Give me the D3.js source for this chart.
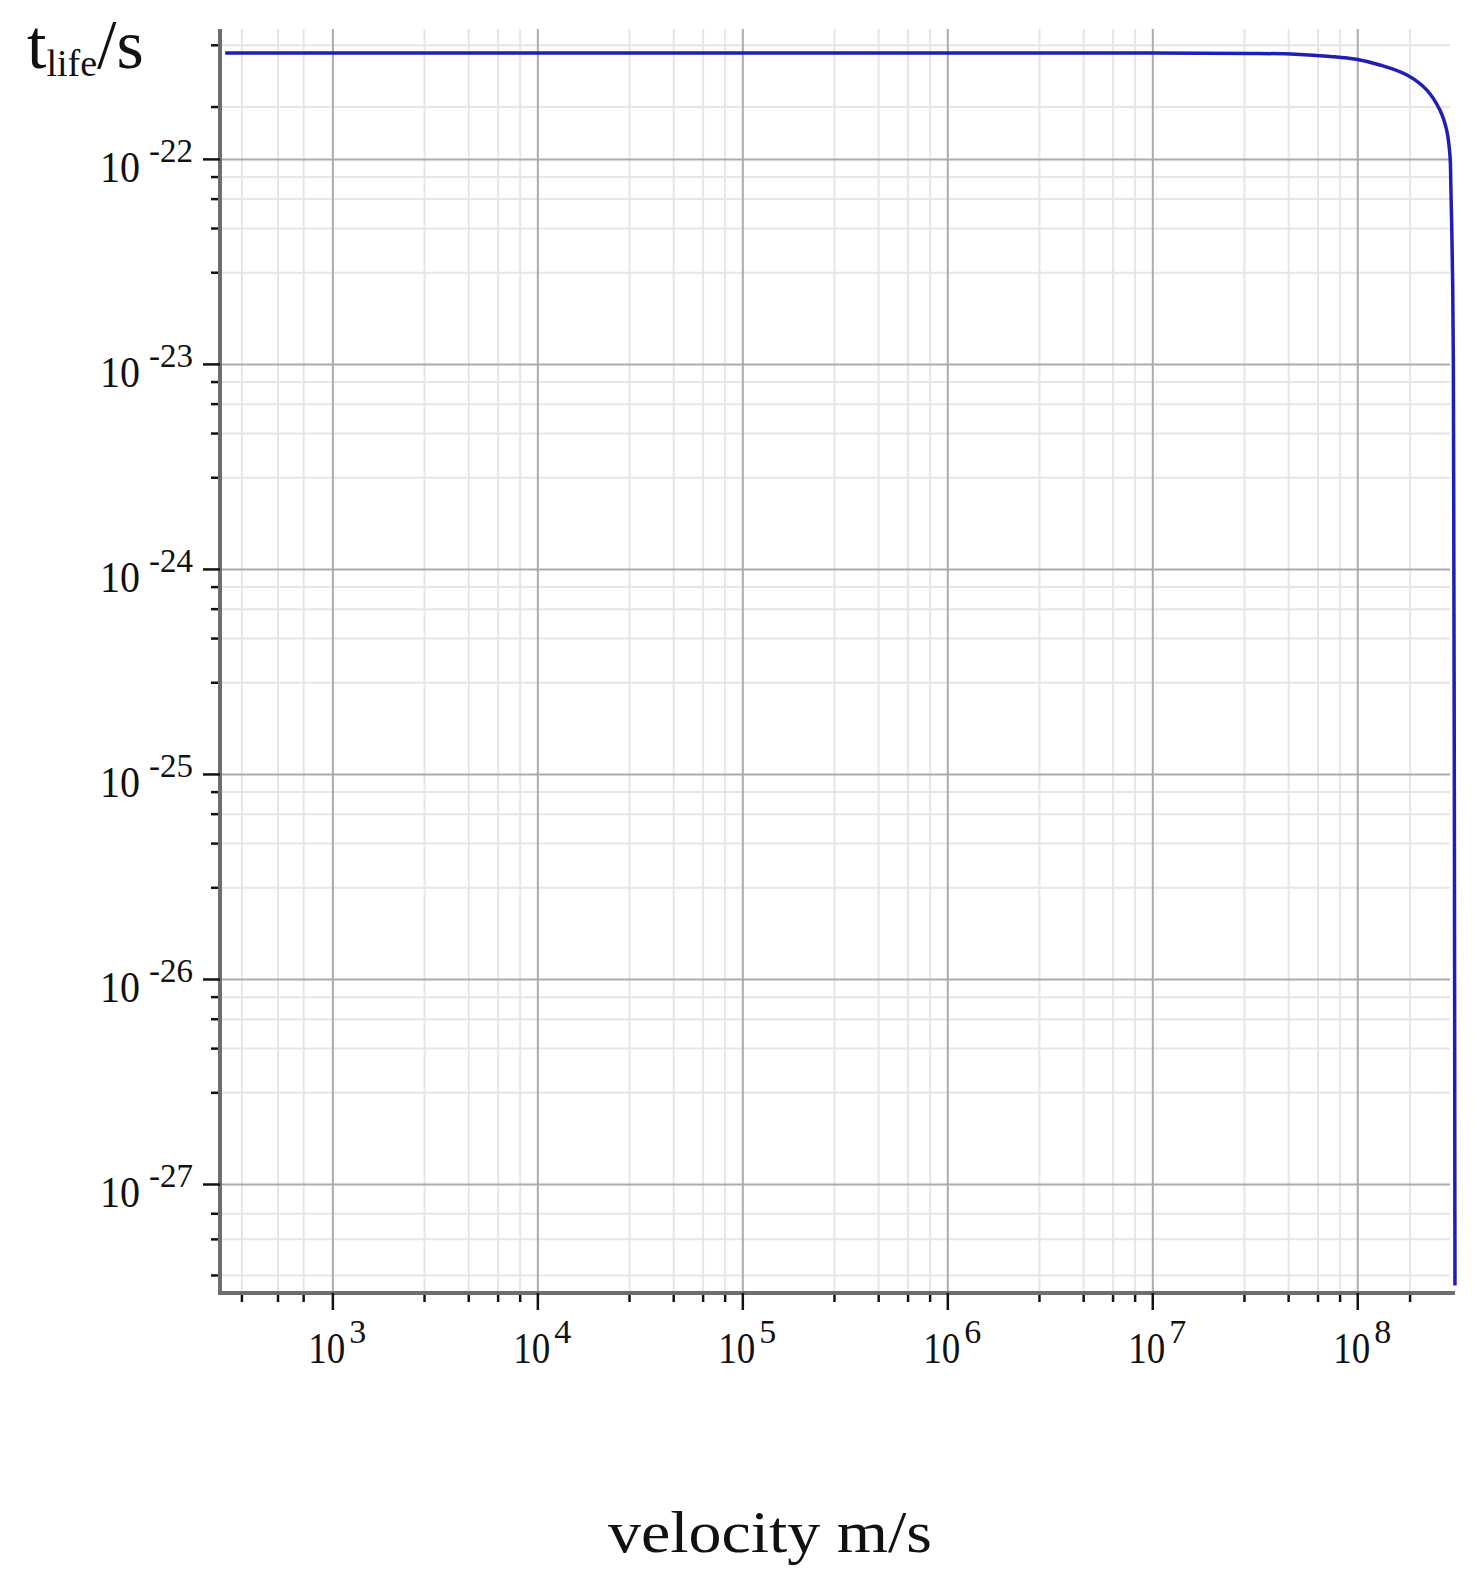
<!DOCTYPE html>
<html>
<head>
<meta charset="utf-8">
<script src="https://cdn.jsdelivr.net/npm/d3@7/dist/d3.min.js"></script>
<style>
  body { margin: 0; background: #fff; }
  text { font-family: "Liberation Serif", "Times New Roman", serif; fill: #111; }
</style>
</head>
<body>
<div id="chart-area"></div>
<script>
// DATA
const velocity = [300, 1e3, 1e4, 1e5, 1e6, 1e7, 3e7, 5e7, 7.4e7, 9.9e7, 1.29e8, 1.74e8,
  2.18e8, 2.53e8, 2.73e8, 2.835e8, 2.86e8, 2.89e8, 2.92e8, 2.943e8, 2.96e8, 2.975e8,
  2.985e8, 2.993e8, 2.997e8]
const lifetime = [3.28e-22, 3.28e-22, 3.28e-22, 3.28e-22, 3.28e-22, 3.28e-22, 3.27e-22, 3.24e-22,
  3.16e-22, 3.06e-22, 2.87e-22, 2.57e-22, 2.17e-22, 1.73e-22, 1.38e-22, 1.03e-22, 7.6e-23,
  4.7e-23, 2.5e-23, 1.0e-23, 1e-24, 1e-25, 1e-26, 1e-27, 3.2e-28]

const xMajorTicks = [1e3, 1e4, 1e5, 1e6, 1e7, 1e8]
const xExponents = ["3", "4", "5", "6", "7", "8"]
const xMinorTicks = [360, 540, 720, 2800, 4600, 6400, 8200, 2.8e4, 4.6e4, 6.4e4, 8.2e4,
  2.8e5, 4.6e5, 6.4e5, 8.2e5, 2.8e6, 4.6e6, 6.4e6, 8.2e6, 2.8e7, 4.6e7, 6.4e7, 8.2e7, 1.8e8]

const yMajorTicks = [1e-22, 1e-23, 1e-24, 1e-25, 1e-26, 1e-27]
const yExponents = ["-22", "-23", "-24", "-25", "-26", "-27"]
const yMinorTicks = [3.6e-22, 1.8e-22,
  8.2e-23, 6.4e-23, 4.6e-23, 2.8e-23,
  8.2e-24, 6.4e-24, 4.6e-24, 2.8e-24,
  8.2e-25, 6.4e-25, 4.6e-25, 2.8e-25,
  8.2e-26, 6.4e-26, 4.6e-26, 2.8e-26,
  8.2e-27, 6.4e-27, 4.6e-27, 2.8e-27,
  7.2e-28, 5.4e-28, 3.6e-28]

const xLabel = "velocity m/s"

// LAYOUT
const WIDTH = 1481
const HEIGHT = 1577
const LEFT = 220, RIGHT = 1455, TOP = 29, BOTTOM = 1293

const svg = d3.select("#chart-area").append("svg")
  .attr("width", WIDTH)
  .attr("height", HEIGHT)

// SCALES
const x = d3.scaleLog()
  .domain([283, 2.998e8])
  .range([LEFT, RIGHT])

const y = d3.scaleLog()
  .domain([2.94e-28, 4.3e-22])
  .range([BOTTOM, TOP])

// GRID
const gridRight = 1450
const vMinor = svg.append("g")
  .attr("transform", `translate(0, ${BOTTOM})`)
  .call(d3.axisBottom(x).tickValues(xMinorTicks).tickFormat("").tickSize(-(BOTTOM - TOP)).tickSizeOuter(0))
const hMinor = svg.append("g")
  .attr("transform", `translate(${LEFT}, 0)`)
  .call(d3.axisLeft(y).tickValues(yMinorTicks).tickFormat("").tickSize(-(gridRight - LEFT)).tickSizeOuter(0))
;[vMinor, hMinor].forEach(g => {
  g.select(".domain").remove()
  g.selectAll("line").attr("stroke", "#e6e6e6").attr("stroke-width", 2)
})

const vMajor = svg.append("g")
  .attr("transform", `translate(0, ${BOTTOM})`)
  .call(d3.axisBottom(x).tickValues(xMajorTicks).tickFormat("").tickSize(-(BOTTOM - TOP)).tickSizeOuter(0))
const hMajor = svg.append("g")
  .attr("transform", `translate(${LEFT}, 0)`)
  .call(d3.axisLeft(y).tickValues(yMajorTicks).tickFormat("").tickSize(-(gridRight - LEFT)).tickSizeOuter(0))
;[vMajor, hMajor].forEach(g => {
  g.select(".domain").remove()
  g.selectAll("line").attr("stroke", "#ababab").attr("stroke-width", 2)
})

// CURVE
const line = d3.line()
  .x((d, i) => x(velocity[i]))
  .y(d => y(d))
  .curve(d3.curveCatmullRom.alpha(0.5))

svg.append("path")
  .datum(lifetime)
  .attr("fill", "none")
  .attr("stroke", "#1e1eb8")
  .attr("stroke-width", 3.5)
  .attr("d", line)

// AXES
const xAxisMinor = svg.append("g")
  .attr("transform", `translate(0, ${BOTTOM})`)
  .call(d3.axisBottom(x).tickValues(xMinorTicks).tickFormat("").tickSize(9).tickSizeOuter(0))
xAxisMinor.select(".domain").remove()

const xAxisMajor = svg.append("g")
  .attr("transform", `translate(0, ${BOTTOM})`)
  .call(d3.axisBottom(x).tickValues(xMajorTicks).tickFormat("").tickSize(17).tickSizeOuter(0))

const yAxisMinor = svg.append("g")
  .attr("transform", `translate(${LEFT}, 0)`)
  .call(d3.axisLeft(y).tickValues(yMinorTicks).tickFormat("").tickSize(9).tickSizeOuter(0))
yAxisMinor.select(".domain").remove()

const yAxisMajor = svg.append("g")
  .attr("transform", `translate(${LEFT}, 0)`)
  .call(d3.axisLeft(y).tickValues(yMajorTicks).tickFormat("").tickSize(17).tickSizeOuter(0))

;[xAxisMajor, yAxisMajor].forEach(g => {
  g.select(".domain").attr("stroke", "#6e6e6e").attr("stroke-width", 4)
})
;[xAxisMinor, xAxisMajor, yAxisMinor, yAxisMajor].forEach(g => {
  g.selectAll(".tick line").attr("stroke", "#111").attr("stroke-width", 2.5)
})
xAxisMajor.select(".domain").attr("d", `M${LEFT - 2},0H${RIGHT}`)
yAxisMajor.select(".domain").attr("d", `M0,${TOP}V${BOTTOM + 2}`)

// TICK LABELS
svg.selectAll(".xlab")
  .data(xMajorTicks)
  .enter().append("text")
  .attr("class", "xlab")
  .attr("x", d => x(d) - 24)
  .attr("y", 1363)
  .attr("font-size", 44)
  .attr("textLength", 37)
  .attr("lengthAdjust", "spacingAndGlyphs")
  .text("10")

svg.selectAll(".xexp")
  .data(xMajorTicks)
  .enter().append("text")
  .attr("class", "xexp")
  .attr("x", d => x(d) + 17)
  .attr("y", 1343)
  .attr("font-size", 34)
  .text((d, i) => xExponents[i])

svg.selectAll(".ylab")
  .data(yMajorTicks)
  .enter().append("text")
  .attr("class", "ylab")
  .attr("x", 100)
  .attr("y", d => y(d) + 23)
  .attr("font-size", 44)
  .attr("textLength", 40)
  .attr("lengthAdjust", "spacingAndGlyphs")
  .text("10")

svg.selectAll(".yexp")
  .data(yMajorTicks)
  .enter().append("text")
  .attr("class", "yexp")
  .attr("x", 149)
  .attr("y", d => y(d) + 3)
  .attr("font-size", 34)
  .attr("textLength", 44)
  .attr("lengthAdjust", "spacingAndGlyphs")
  .text((d, i) => yExponents[i])

// AXIS TITLES
const title = svg.append("text")
  .attr("x", 27)
  .attr("y", 68)
  .attr("font-size", 70)
title.append("tspan").text("t")
title.append("tspan").attr("font-size", 38).attr("dy", 8).text("life")
title.append("tspan").attr("dy", -8).text("/s")

svg.append("text")
  .attr("x", 608)
  .attr("y", 1552)
  .attr("font-size", 60)
  .attr("textLength", 324)
  .attr("lengthAdjust", "spacingAndGlyphs")
  .text(xLabel)
</script>
</body>
</html>
